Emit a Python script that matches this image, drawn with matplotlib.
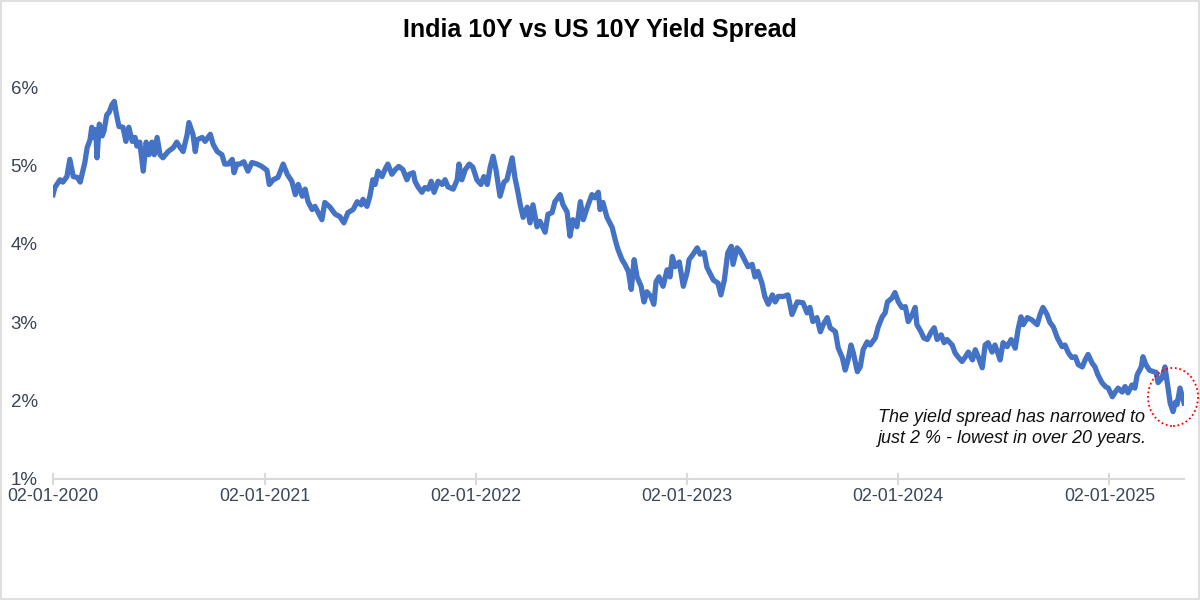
import matplotlib
matplotlib.use('Agg')
import matplotlib.pyplot as plt
import matplotlib.dates as mdates
from matplotlib.patches import Ellipse, Rectangle
import numpy as np
import pandas as pd

plt.rcParams['font.family'] = ['Liberation Sans', 'DejaVu Sans']

TITLE = 'India 10Y vs US 10Y Yield Spread'
NOTE = 'The yield spread has narrowed to\njust 2 % - lowest in over 20 years.'
START = '2020-01-02'

# days since 2-Jan-2020, spread in %
days = [
    0, 3, 12, 17, 24, 29, 35, 42, 47, 55, 59, 64, 67, 71, 74, 76, 80, 85, 88, 93,
    97, 102, 106, 109, 114, 121, 126, 131, 137, 142, 145, 150, 156, 161, 166, 171, 175, 180, 185, 190,
    199, 208, 214, 220, 225, 232, 235, 242, 246, 249, 258, 263, 272, 277, 284, 292, 297, 303, 310, 313,
    318, 323, 330, 337, 344, 353, 361, 370, 374, 381, 389, 398, 405, 413, 419, 424, 431, 436, 441, 448,
    453, 458, 465, 470, 479, 488, 496, 503, 510, 519, 526, 533, 536, 543, 548, 553, 557, 562, 569, 574,
    579, 586, 592, 598, 605, 612, 616, 623, 626, 631, 638, 643, 649, 654, 659, 666, 673, 678, 683, 692,
    699, 702, 707, 713, 720, 726, 733, 740, 745, 751, 756, 761, 766, 773, 780, 785, 794, 799, 803, 808,
    813, 820, 825, 830, 837, 842, 851, 856, 863, 868, 877, 882, 889, 894, 899, 906, 912, 917, 924, 932,
    937, 943, 946, 951, 958, 967, 972, 977, 984, 989, 995, 1000, 1005, 1010, 1017, 1022, 1027, 1034, 1039, 1043,
    1048, 1055, 1062, 1067, 1071, 1076, 1083, 1090, 1097, 1100, 1107, 1114, 1119, 1126, 1131, 1142, 1150, 1155, 1161, 1167,
    1173, 1176, 1183, 1188, 1193, 1202, 1209, 1214, 1219, 1226, 1231, 1237, 1244, 1249, 1254, 1263, 1271, 1278, 1287, 1297,
    1304, 1309, 1314, 1321, 1327, 1332, 1339, 1344, 1353, 1358, 1365, 1370, 1375, 1380, 1384, 1391, 1396, 1401, 1408, 1413,
    1422, 1427, 1434, 1439, 1443, 1451, 1456, 1462, 1468, 1474, 1479, 1486, 1491, 1494, 1501, 1506, 1512, 1519, 1524, 1529,
    1536, 1541, 1546, 1555, 1560, 1565, 1572, 1577, 1583, 1590, 1595, 1600, 1607, 1612, 1617, 1624, 1629, 1638, 1643, 1650,
    1657, 1664, 1669, 1674, 1678, 1685, 1693, 1702, 1707, 1712, 1719, 1724, 1730, 1737, 1745, 1750, 1756, 1762, 1768, 1773,
    1780, 1785, 1790, 1797, 1802, 1807, 1814, 1820, 1825, 1832, 1837, 1842, 1849, 1854, 1859, 1866, 1871, 1875, 1882, 1885,
    1890, 1896, 1903, 1908, 1911, 1918, 1923, 1927, 1932, 1937, 1941, 1944, 1949, 1953, 1956,
]
spread = [
    4.63, 4.72, 4.82, 4.79, 4.86, 5.08, 4.86, 4.85, 4.79, 5.04, 5.23, 5.33, 5.49, 5.36, 5.46, 5.10, 5.53, 5.38, 5.44, 5.65,
    5.68, 5.78, 5.82, 5.68, 5.50, 5.49, 5.31, 5.49, 5.31, 5.36, 5.25, 5.30, 4.93, 5.30, 5.14, 5.30, 5.14, 5.36, 5.14, 5.10,
    5.18, 5.23, 5.30, 5.23, 5.18, 5.40, 5.55, 5.40, 5.18, 5.33, 5.36, 5.31, 5.40, 5.27, 5.18, 5.14, 5.02, 5.02, 5.08, 4.91,
    5.02, 5.02, 5.05, 4.93, 5.04, 5.02, 4.99, 4.94, 4.76, 4.82, 4.85, 5.02, 4.89, 4.80, 4.63, 4.76, 4.61, 4.70, 4.54, 4.44,
    4.48, 4.41, 4.31, 4.53, 4.47, 4.38, 4.35, 4.27, 4.40, 4.44, 4.54, 4.50, 4.57, 4.48, 4.61, 4.82, 4.76, 4.93, 4.86, 4.95,
    5.02, 4.89, 4.95, 4.99, 4.95, 4.82, 4.89, 4.91, 4.80, 4.73, 4.66, 4.72, 4.70, 4.80, 4.66, 4.80, 4.76, 4.82, 4.73, 4.70,
    4.82, 5.02, 4.82, 4.95, 5.02, 4.98, 4.82, 4.76, 4.86, 4.76, 4.98, 5.12, 4.95, 4.61, 4.79, 4.82, 5.10, 4.84, 4.70, 4.50,
    4.34, 4.47, 4.27, 4.50, 4.22, 4.29, 4.15, 4.38, 4.40, 4.54, 4.63, 4.50, 4.41, 4.10, 4.31, 4.22, 4.54, 4.31, 4.47, 4.63,
    4.59, 4.66, 4.44, 4.53, 4.34, 4.21, 4.06, 3.93, 3.80, 3.74, 3.65, 3.42, 3.80, 3.58, 3.46, 3.26, 3.39, 3.33, 3.23, 3.52,
    3.58, 3.46, 3.67, 3.58, 3.84, 3.71, 3.77, 3.46, 3.65, 3.80, 3.87, 3.95, 3.87, 3.89, 3.70, 3.54, 3.50, 3.35, 3.54, 3.89,
    3.97, 3.74, 3.95, 3.91, 3.84, 3.71, 3.74, 3.58, 3.65, 3.50, 3.33, 3.23, 3.35, 3.26, 3.33, 3.33, 3.35, 3.10, 3.26, 3.25,
    3.12, 3.19, 3.01, 3.06, 2.88, 2.97, 3.06, 2.93, 2.88, 2.67, 2.55, 2.39, 2.52, 2.71, 2.61, 2.37, 2.43, 2.65, 2.75, 2.71,
    2.80, 2.94, 3.07, 3.12, 3.26, 3.31, 3.38, 3.26, 3.19, 3.20, 3.01, 3.10, 3.19, 2.97, 2.88, 2.80, 2.78, 2.88, 2.93, 2.78,
    2.84, 2.74, 2.78, 2.71, 2.61, 2.56, 2.50, 2.55, 2.62, 2.52, 2.65, 2.56, 2.42, 2.71, 2.74, 2.62, 2.71, 2.52, 2.74, 2.69,
    2.78, 2.67, 2.91, 3.07, 2.97, 3.06, 3.03, 2.97, 3.10, 3.19, 3.10, 3.00, 2.94, 2.80, 2.69, 2.71, 2.61, 2.55, 2.56, 2.46,
    2.43, 2.52, 2.59, 2.48, 2.43, 2.33, 2.23, 2.18, 2.16, 2.05, 2.11, 2.16, 2.11, 2.18, 2.10, 2.20, 2.16, 2.33, 2.43, 2.56,
    2.46, 2.39, 2.37, 2.36, 2.23, 2.29, 2.43, 2.23, 1.97, 1.86, 1.98, 1.95, 2.16, 2.05, 1.97,
]

year_ticks = ['2020-01-02', '2021-01-02', '2022-01-02', '2023-01-02', '2024-01-02', '2025-01-02']
y_ticks = [1, 2, 3, 4, 5, 6]

dates = pd.Timestamp(START) + pd.to_timedelta(days, unit='D')

fig = plt.figure(figsize=(12, 6), dpi=100)
fig.patches.append(Rectangle((0.001, 0.001), 0.998, 0.998, transform=fig.transFigure,
                             fill=False, edgecolor='#D9D9D9', lw=1.2))
ax = fig.add_axes([0.0442, 0.2017, 0.9425, 0.705])

ax.plot(dates, spread, color='#4472C4', lw=3.8, solid_joinstyle='round')

ax.set_xlim(dates[0], dates[-1])
ax.set_ylim(1, 6.4)
ax.set_yticks(y_ticks)
ax.set_yticklabels([f'{v}%' for v in y_ticks])
ax.set_xticks(pd.to_datetime(year_ticks))
ax.xaxis.set_major_formatter(mdates.DateFormatter('%d-%m-%Y'))

for s in ['top', 'right', 'left']:
    ax.spines[s].set_visible(False)
ax.spines['bottom'].set_color('#D9D9D9')
ax.spines['bottom'].set_linewidth(1.5)
ax.tick_params(axis='x', direction='inout', length=9, width=1.5, color='#D9D9D9',
               labelsize=12.8, labelcolor='#3B4656', pad=2)
ax.tick_params(axis='y', length=0, labelsize=13.5, labelcolor='#3B4656', pad=11)

fig.text(0.5, 0.95, TITLE, ha='center', va='center', fontsize=18, fontweight='bold')
fig.text(0.843, 0.287, NOTE, ha='center', va='center', fontsize=13, style='italic',
         color='#111111', linespacing=1.3)
fig.patches.append(Ellipse((1173 / 1200, 1 - 397 / 600), 50 / 1200, 58 / 600,
                           transform=fig.transFigure, fill=False, edgecolor='#FF0000',
                           linestyle=(0, (1, 1.5)), lw=1.3))

fig.savefig('out.png', dpi=100)
